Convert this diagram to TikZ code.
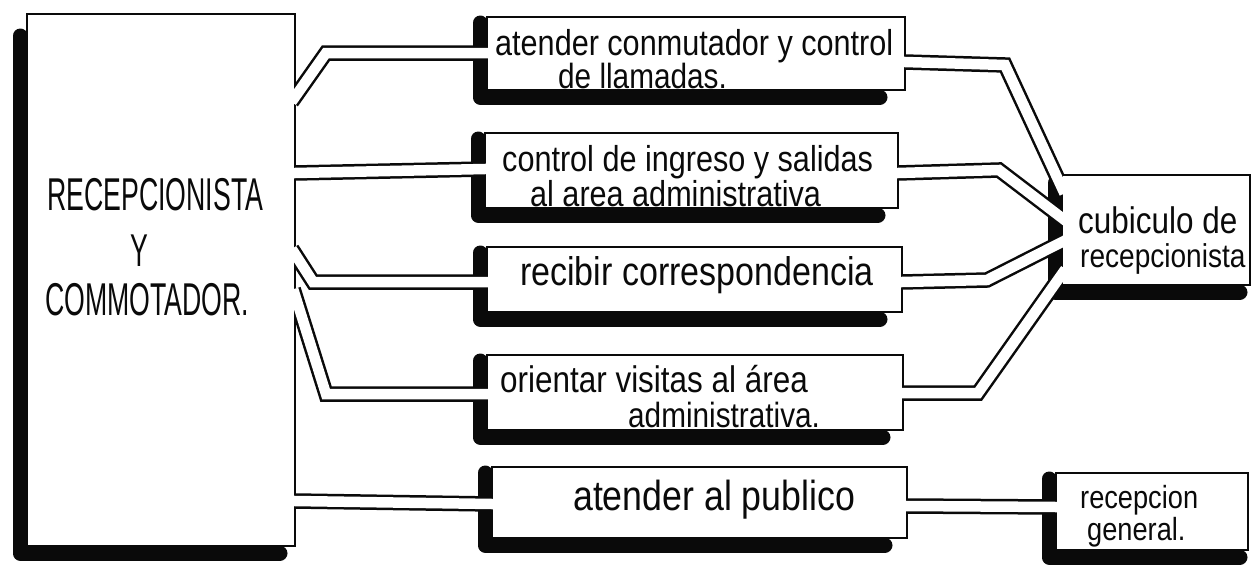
\documentclass[tikz,border=0pt]{standalone}
\usepackage{fontspec}
\usepackage{xcolor}
\usepackage{tikz}
\usetikzlibrary{calc}
\newfontfamily\handfont[FakeStretch=0.85]{Liberation Sans}
\newfontfamily\capsfont[FakeStretch=0.58]{Liberation Sans}
\definecolor{colInk}  {HTML}{0A0A0A}
\definecolor{colPaper}{HTML}{FFFFFF}
\tikzset{
  box/.style={
    draw=colInk, fill=colPaper, line width=2.6pt,
    inner sep=0pt, outer sep=0pt, anchor=north west
  },
  shadowbar/.style={
    draw=colInk, line width=15pt, line cap=round, line join=round
  },
  hall/.style={
    draw=colInk, line width=2.5pt, double=colPaper, double distance=10.5pt,
    shorten <=-6pt, shorten >=-6pt
  },
  txt/.style={
    anchor=base west, inner sep=0pt, text=colInk,
    font=\handfont\fontsize{#1}{#1}\selectfont
  },
  txt/.default=36,
  caps/.style={
    anchor=base west, inner sep=0pt, text=colInk,
    font=\capsfont\fontsize{#1}{#1}\selectfont
  },
  caps/.default=46
}
% thick hand-inked shadow on the left and bottom side of a box
\newcommand{\boxshadow}[3]{%
  \draw[shadowbar] ($(#1.north west)+(-7,#2)$) |- ($(#1.south east)+(-#3,7)$);}
% wipe the corridor ends that run past a box border
\newcommand{\boxclear}[1]{%
  \fill[colPaper] ($(#1.north west)+(1.4,1.4)$) rectangle ($(#1.south east)+(-1.4,-1.4)$);}

\begin{document}
\begin{tikzpicture}[x=1pt, y=-1pt]
  \useasboundingbox (0,0) rectangle (1256,565);

  %% ── Boxes ───────────────────────────────────────────────────────
  \node[box, minimum width=268pt, minimum height=532pt] (recep)    at (27,14)   {};
  \node[box, minimum width=418pt, minimum height=73pt]  (conmut)   at (487,17)  {};
  \node[box, minimum width=413pt, minimum height=75pt]  (ingreso)  at (485,133) {};
  \node[box, minimum width=415pt, minimum height=65pt]  (corresp)  at (487,247) {};
  \node[box, minimum width=416pt, minimum height=75pt]  (visitas)  at (487,355) {};
  \node[box, minimum width=415pt, minimum height=71pt]  (publico)  at (492,467) {};
  \node[box, minimum width=188pt, minimum height=110pt] (cubiculo) at (1062,175) {};
  \node[box, minimum width=192pt, minimum height=77pt]  (general)  at (1056,473) {};

  %% ── Shadows ─────────────────────────────────────────────────────
  \boxshadow{recep}{22}{15}
  \boxshadow{conmut}{6}{25}
  \boxshadow{ingreso}{6}{20}
  \boxshadow{corresp}{6}{22}
  \boxshadow{visitas}{6}{20}
  \boxshadow{publico}{6}{22}
  \boxshadow{cubiculo}{8}{10}
  \boxshadow{general}{6}{8}

  %% ── Corridors: recepcionista -> tasks ───────────────────────────
  \draw[hall] ($(recep.north east)+(0,83)$) -- ++(31,-44)
              -- ($(conmut.north west)+(0,36)$);
  \draw[hall] ($(recep.north east)+(0,159)$) -- ($(ingreso.north west)+(0,36)$);
  \draw[hall] ($(recep.north east)+(0,240)$) -- ++(18,28)
              -- ($(corresp.north west)+(0,35)$);
  \draw[hall] ($(recep.north east)+(0,281)$) -- ++(31,99)
              -- ($(visitas.north west)+(0,39)$);
  \draw[hall] ($(recep.north east)+(0,487)$) -- ($(publico.north west)+(0,37)$);

  %% ── Corridors: tasks -> places ──────────────────────────────────
  \draw[hall] ($(conmut.north east)+(0,45)$) -- ++(100,3)
              -- ($(cubiculo.north west)+(0,13)$);
  \draw[hall] ($(ingreso.north east)+(0,40)$) -- ++(101,-3)
              -- ($(cubiculo.north west)+(0,43)$);
  \draw[hall] ($(corresp.north east)+(0,35)$) -- ++(85,-2)
              -- ($(cubiculo.north west)+(0,67)$);
  \draw[hall] ($(visitas.north east)+(0,38)$) -- ++(75,0)
              -- ($(cubiculo.north west)+(0,99)$);
  \draw[hall] ($(publico.north east)+(0,39)$) -- ($(general.north west)+(0,34)$);

  \foreach \b in {recep, conmut, ingreso, corresp, visitas, publico, cubiculo, general}
    {\boxclear{\b}}

  %% ── Texts ───────────────────────────────────────────────────────
  \node[caps] (recepA) at (47,210)  {RECEPCIONISTA};
  \node[caps] (recepB) at (130,266) {Y};
  \node[caps] (recepC) at (45,315)  {COMMOTADOR.};

  \node[txt]    (conmutA)   at (495,55)   {atender conmutador y control};
  \node[txt=35] (conmutB)   at (558,88)   {de llamadas.};
  \node[txt]    (ingresoA)  at (502,171)  {control de ingreso y salidas};
  \node[txt]    (ingresoB)  at (530,206)  {al area administrativa};
  \node[txt=40] (correspA)  at (520,285)  {recibir correspondencia};
  \node[txt=37] (visitasA)  at (500,392)  {orientar visitas al área};
  \node[txt=35] (visitasB)  at (628,427)  {administrativa.};
  \node[txt=42] (publicoA)  at (573,510)  {atender al publico};
  \node[txt=37] (cubiculoA) at (1078,233) {cubiculo de};
  \node[txt=33] (cubiculoB) at (1080,267) {recepcionista};
  \node[txt=32] (generalA)  at (1080,508) {recepcion};
  \node[txt=32] (generalB)  at (1087,540) {general.};
\end{tikzpicture}
\end{document}
